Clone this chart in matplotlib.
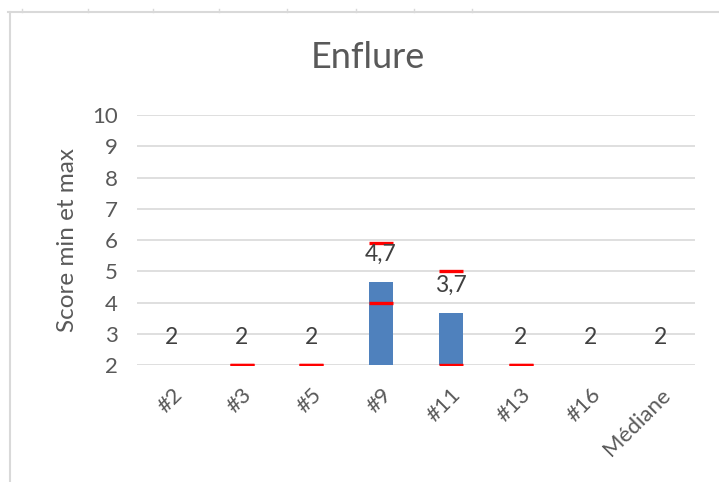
import matplotlib
matplotlib.use("Agg")
import matplotlib.pyplot as plt
import numpy as np
from matplotlib.lines import Line2D

categories = ["#2", "#3", "#5", "#9", "#11", "#13", "#16", "Médiane"]
means = [2, 2, 2, 4.67, 3.67, 2, 2, 2]
mins = [np.nan, 2, 2, 4, 2, 2, np.nan, np.nan]
maxs = [np.nan, 2, 2, 5.9, 5, 2, np.nan, np.nan]
yticks = [2, 3, 4, 5, 6, 7, 8, 9, 10]

plt.rcParams['font.family'] = ['Lato', 'DejaVu Sans']
txt = '#595959'
grid = '#d9d9d9'

fig = plt.figure(figsize=(7.19, 4.82), dpi=100)
ax = fig.add_axes([0.1905, 0.2421, 0.7761, 0.5193])

x = np.arange(len(categories))
ax.bar(x, means, width=0.34, color='#4f81bd', zorder=2)
ax.plot(x, mins, linestyle='none', marker='_', markersize=17, markeredgewidth=2.4, color='#ff0000', zorder=3)
ax.plot(x, maxs, linestyle='none', marker='_', markersize=17, markeredgewidth=2.4, color='#ff0000', zorder=3)

def fmt(v):
    if abs(v - round(v)) < 1e-9:
        return str(int(round(v)))
    return f"{v:.1f}".replace('.', ',')

for xi, m in zip(x, means):
    ax.annotate(fmt(m), (xi, m), xytext=(0, 20), textcoords='offset points',
                ha='center', va='center', fontsize=16.5, color='#404040', zorder=4)

ax.set_ylim(2, 10)
ax.set_xlim(-0.5, len(categories) - 0.5)
ax.set_yticks(yticks)
ax.set_yticklabels([str(t) for t in yticks], fontsize=16, color=txt)
ax.set_xticks(x)
ax.set_xticklabels(categories, rotation=45, ha='right', rotation_mode='anchor', fontsize=16, color=txt)
ax.tick_params(axis='y', length=0, pad=14)
ax.tick_params(axis='x', length=0, pad=14)
ax.yaxis.grid(True, color=grid, linewidth=1.2, zorder=0)
ax.set_axisbelow(True)
for s in ax.spines.values():
    s.set_visible(False)
ax.set_ylabel("Score min et max", fontsize=17.5, color=txt, labelpad=10)

fig.text(0.512, 0.88, "Enflure", ha='center', va='center', fontsize=26, color=txt)

# outer frame lines (sheet border)
fig.add_artist(Line2D([8/719, 1], [1 - 12/482, 1 - 12/482], color=grid, linewidth=1.5))
fig.add_artist(Line2D([10/719, 10/719], [0, 1 - 12/482], color=grid, linewidth=1.5))
for px in [22, 88, 153, 219, 287, 356, 414, 472]:
    fig.add_artist(Line2D([px/719, px/719], [1 - 12/482, 1 - 9/482], color=grid, linewidth=1))

fig.savefig("out.png", dpi=100, facecolor='white')
